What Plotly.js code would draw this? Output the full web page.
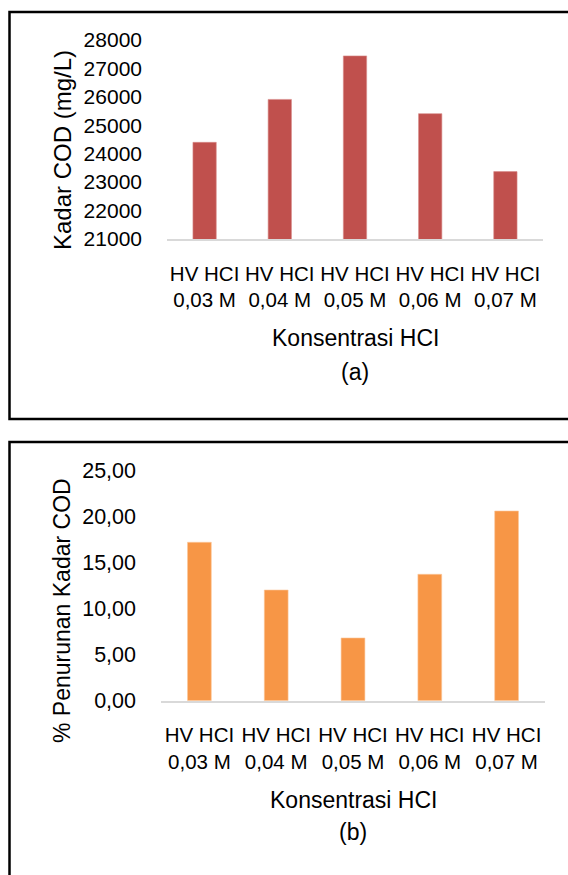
<!DOCTYPE html>
<html>
<head>
<meta charset="utf-8">
<script src="https://cdn.plot.ly/plotly-3.0.1.min.js"></script>
<style>
  html, body { margin: 0; padding: 0; background: #fff; }
  #chart { width: 568px; height: 875px; }
</style>
</head>
<body>
<div id="chart"></div>
<script>
// ---- data ----
const categories = ['HV HCI<br>0,03 M', 'HV HCI<br>0,04 M', 'HV HCI<br>0,05 M', 'HV HCI<br>0,06 M', 'HV HCI<br>0,07 M'];
const codValues = [24400, 25910, 27440, 25410, 23370];          // Kadar COD (mg/L)
const reductionValues = [17.22, 12.03, 6.82, 13.74, 20.62];      // % Penurunan Kadar COD
const codTickVals = [21000, 22000, 23000, 24000, 25000, 26000, 27000, 28000];
const codTickText = ['21000', '22000', '23000', '24000', '25000', '26000', '27000', '28000'];
const redTickVals = [0, 5, 10, 15, 20, 25];
const redTickText = ['0,00', '5,00', '10,00', '15,00', '20,00', '25,00'];
const xTitle = 'Konsentrasi HCI';
const yTitleA = 'Kadar COD (mg/L)';
const yTitleB = '% Penurunan Kadar COD';

const W = 568, H = 875;
const px = v => v / W;
const py = v => 1 - v / H;

const FONT = '"Liberation Sans", Arial, sans-serif';
const TXT = '#000000';

const traces = [
  {
    type: 'bar', x: categories, y: codValues, xaxis: 'x', yaxis: 'y',
    marker: { color: '#c0504d', line: { color: '#d98c8a', width: 0.6 } },
    hoverinfo: 'x+y'
  },
  {
    type: 'bar', x: categories, y: reductionValues, xaxis: 'x2', yaxis: 'y2',
    marker: { color: '#f79646', line: { color: '#fbc79c', width: 0.6 } },
    hoverinfo: 'x+y'
  }
];

const xCommon = {
  type: 'category',
  showline: true, linecolor: '#d9d9d9', linewidth: 2,
  showgrid: false, zeroline: false, ticks: '',
  tickfont: { family: FONT, size: 20.5, color: TXT },
  ticklabelstandoff: 15,
  fixedrange: true
};
const yCommon = {
  showline: false, showgrid: false, zeroline: false, ticks: '',
  tickmode: 'array',
  ticklabelstandoff: 24,
  fixedrange: true
};

const layout = {
  width: W, height: H,
  margin: { l: 0, r: 0, t: 0, b: 0 },
  paper_bgcolor: '#ffffff', plot_bgcolor: '#ffffff',
  showlegend: false,
  bargap: 0.69,
  font: { family: FONT, color: TXT },
  xaxis: Object.assign({}, xCommon, { domain: [px(167), px(543)], anchor: 'y' }),
  yaxis: Object.assign({}, yCommon, {
    domain: [py(239), py(40)], anchor: 'x',
    range: [21000, 28000], tickvals: codTickVals, ticktext: codTickText,
    tickfont: { family: FONT, size: 21, color: TXT }
  }),
  xaxis2: Object.assign({}, xCommon, { domain: [px(161), px(545)], anchor: 'y2' }),
  yaxis2: Object.assign({}, yCommon, {
    domain: [py(700.7), py(470.7)], anchor: 'x2',
    range: [0, 25], tickvals: redTickVals, ticktext: redTickText,
    tickfont: { family: FONT, size: 21.5, color: TXT }
  }),
  shapes: [
    { type: 'rect', xref: 'paper', yref: 'paper', x0: px(9.5), x1: px(575), y0: py(419), y1: py(12),
      line: { color: '#000000', width: 2.5 }, fillcolor: 'rgba(0,0,0,0)', layer: 'above' },
    { type: 'rect', xref: 'paper', yref: 'paper', x0: px(9.5), x1: px(575), y0: py(885), y1: py(442),
      line: { color: '#000000', width: 2.5 }, fillcolor: 'rgba(0,0,0,0)', layer: 'above' }
  ],
  annotations: [
    { text: xTitle, xref: 'paper', yref: 'paper', x: px(355), y: py(338), xanchor: 'center', yanchor: 'middle',
      showarrow: false, font: { family: FONT, size: 23, color: TXT } },
    { text: '(a)', xref: 'paper', yref: 'paper', x: px(355), y: py(372), xanchor: 'center', yanchor: 'middle',
      showarrow: false, font: { family: FONT, size: 23, color: TXT } },
    { text: yTitleA, xref: 'paper', yref: 'paper', x: px(62), y: py(150), xanchor: 'center', yanchor: 'middle',
      textangle: -90, showarrow: false, font: { family: FONT, size: 24, color: TXT } },
    { text: xTitle, xref: 'paper', yref: 'paper', x: px(353), y: py(800), xanchor: 'center', yanchor: 'middle',
      showarrow: false, font: { family: FONT, size: 23, color: TXT } },
    { text: '(b)', xref: 'paper', yref: 'paper', x: px(353), y: py(832), xanchor: 'center', yanchor: 'middle',
      showarrow: false, font: { family: FONT, size: 23, color: TXT } },
    { text: yTitleB, xref: 'paper', yref: 'paper', x: px(62), y: py(611), xanchor: 'center', yanchor: 'middle',
      textangle: -90, showarrow: false, font: { family: FONT, size: 23, color: TXT } }
  ]
};

Plotly.newPlot('chart', traces, layout, { displayModeBar: false, staticPlot: true });
</script>
</body>
</html>
